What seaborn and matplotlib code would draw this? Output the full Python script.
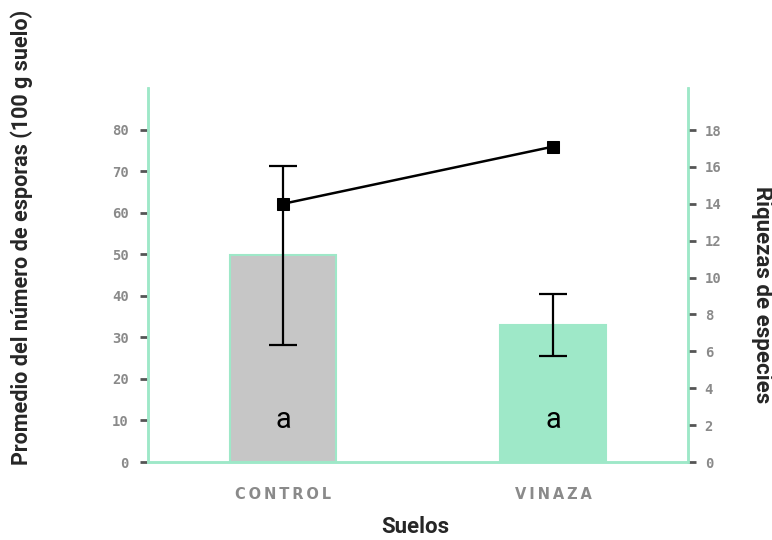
import matplotlib
matplotlib.use("Agg")
import matplotlib.pyplot as plt
import seaborn as sns
import pandas as pd
from matplotlib import font_manager

categories = ["CONTROL", "VINAZA"]
esporas = [49.7, 33.0]
esporas_err = [21.6, 7.5]
riqueza = [14.0, 17.1]
letters = ["a", "a"]
left_ticks = [0, 10, 20, 30, 40, 50, 60, 70, 80]
right_ticks = [0, 2, 4, 6, 8, 10, 12, 14, 16, 18]

MINT = "#9ee8c8"
GRAY = "#c6c6c6"
TICKGRAY = "#8a8a8a"

sns.set_style("white")
names = {f.name for f in font_manager.fontManager.ttflist}
cond = "Liberation Sans Narrow" if "Liberation Sans Narrow" in names else "Roboto"
plt.rcParams["font.family"] = ["DejaVu Sans"]

df = pd.DataFrame({"cat": categories, "esp": esporas, "riq": riqueza})

fig = plt.figure(figsize=(7.72, 5.4), dpi=100)
ax = fig.add_axes([148/772, 78/540, 540/772, 374/540])

sns.barplot(data=df, x="cat", y="esp", hue="cat", palette=[GRAY, MINT],
            width=0.39, ax=ax, legend=False, errorbar=None, linewidth=0,
            saturation=1)
for p in ax.patches:
    p.set_edgecolor(MINT)
    p.set_linewidth(1.5)
ax.errorbar([0, 1], esporas, yerr=esporas_err, fmt="none", ecolor="black",
            elinewidth=1.6, capsize=10, capthick=1.6, zorder=5)
for i, t in enumerate(letters):
    ax.text(i, 10, t, ha="center", va="center", fontsize=21, family=cond,
            fontweight="normal", color="black")

ax.set_xlim(-0.5, 1.5)
ax.set_ylim(0, 90)
ax.set_yticks(left_ticks)
ax.set_yticklabels([str(v) for v in left_ticks], family="DejaVu Sans Mono",
                   fontsize=10, color=TICKGRAY, fontweight="bold")
ax.set_xticks([0, 1])
ax.set_xticklabels(["\u2009".join(c) for c in categories], fontsize=10.5,
                   color=TICKGRAY, fontweight="bold", family="DejaVu Sans")
ax.tick_params(axis="x", length=0, pad=18)
ax.tick_params(axis="y", length=6, width=2, color="#555555", pad=8, direction="out", left=True)
ax.set_xlabel("")
ax.set_ylabel("")
ax.spines["top"].set_visible(False)
for s in ["left", "bottom", "right"]:
    ax.spines[s].set_color(MINT)
    ax.spines[s].set_linewidth(1.8)

ax2 = ax.twinx()
sns.lineplot(data=df, x="cat", y="riq", ax=ax2, color="black", marker="s",
             markersize=8, linewidth=1.8, markeredgecolor="black")
ax2.set_ylim(0, 20.28)
ax2.set_yticks(right_ticks)
ax2.set_yticklabels([str(v) for v in right_ticks], family="DejaVu Sans Mono",
                    fontsize=10, color=TICKGRAY, fontweight="bold")
ax2.tick_params(axis="y", length=6, width=2, color="#555555", pad=6, direction="out", right=True)
ax2.set_ylabel("")
ax2.set_xlabel("")
ax2.spines["top"].set_visible(False)
for s in ["left", "bottom", "right"]:
    ax2.spines[s].set_color(MINT)
    ax2.spines[s].set_linewidth(1.8)
ax2.set_xlim(-0.5, 1.5)

fig.text(22/772, 1 - 237/540, "Promedio del número de esporas (100 g suelo)", rotation=90,
         ha="center", va="center", fontsize=15.5, family=cond, fontweight="bold")
fig.text(762/772, 1 - 295/540, "Riquezas de especies", rotation=-90,
         ha="center", va="center", fontsize=16, family=cond, fontweight="bold")
fig.text(415/772, 1 - 527/540, "Suelos", ha="center", va="center",
         fontsize=16, family=cond, fontweight="bold")

fig.savefig("out.png", dpi=100)
